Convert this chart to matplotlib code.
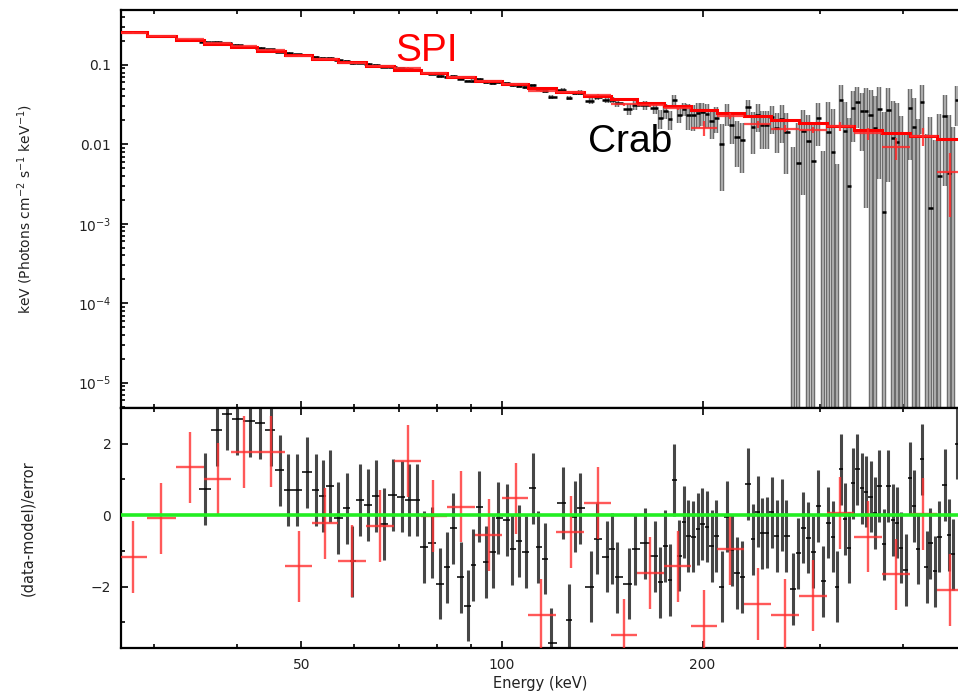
import numpy as np
import matplotlib
matplotlib.use("Agg")
from matplotlib import pyplot as plt
from matplotlib.ticker import FixedLocator, NullFormatter, MultipleLocator, LogLocator

# SPI spectrum (red): bin centres in keV, model, data, residuals
spi_energy = [27.9, 30.8, 34.0, 37.5, 41.0, 45.0, 49.6, 54.2, 59.5, 65.6,
              72.3, 78.8, 86.8, 95.6, 104.9, 114.5, 126.8, 139.3, 152.5, 166.9,
              183.5, 201.0, 220.0, 242.0, 266.0, 293.0, 322.0, 354.0, 391.0, 429.0,
              470.0]
spi_model = [0.257, 0.229, 0.205, 0.183, 0.166, 0.149, 0.133, 0.120, 0.108, 0.0968,
             0.0867, 0.0786, 0.0704, 0.0630, 0.0567, 0.0513, 0.0457, 0.0410, 0.0370, 0.0334,
             0.0300, 0.0271, 0.0247, 0.0224, 0.0204, 0.0185, 0.0168, 0.0153, 0.0138, 0.0126,
             0.0115]
spi_flux = [0.251, 0.229, 0.210, 0.187, 0.171, 0.154, 0.129, 0.120, 0.106, 0.0959,
            0.0907, 0.0786, 0.0709, 0.0619, 0.0575, 0.0470, 0.0451, 0.0414, 0.0320, 0.0312,
            0.0283, 0.0162, 0.0228, 0.0179, 0.0158, 0.0152, 0.0169, 0.0138, 0.0092, 0.0127,
            0.0045]
spi_flux_err = [0.0051, 0.0046, 0.0041, 0.0037, 0.0033, 0.0030, 0.0027, 0.0024, 0.0022, 0.0029,
                0.0026, 0.0024, 0.0021, 0.0019, 0.0017, 0.0015, 0.0014, 0.0012, 0.0015, 0.0013,
                0.0012, 0.0035, 0.0020, 0.0018, 0.0016, 0.0015, 0.0020, 0.0024, 0.0028, 0.0032,
                0.0033]
spi_resid = [-1.17, -0.09, 1.34, 1.01, 1.77, 1.78, -1.43, -0.23, -1.28, -0.30,
             1.52, -0.02, 0.24, -0.56, 0.47, -2.79, -0.47, 0.34, -3.36, -1.62,
             -1.43, -3.10, -0.96, -2.49, -2.79, -2.25, 0.06, -0.60, -1.66, 0.03,
             -2.10]

# Crab spectrum (black)
crab_energy = [35.8, 37.3, 38.7, 40.0, 41.8, 43.3, 45.0, 46.4, 47.8, 49.2,
               51.0, 52.6, 53.8, 55.2, 56.8, 58.6, 59.6, 61.2, 63.0, 64.7,
               66.5, 68.5, 70.7, 72.4, 74.5, 76.4, 78.6, 80.7, 82.8, 84.5,
               86.7, 88.8, 90.6, 92.5, 94.6, 96.8, 98.8, 101.6, 103.7, 106.1,
               108.5, 111.2, 113.4, 116.0, 118.3, 123.4, 126.2, 128.7, 130.9, 135.9,
               138.7, 143.6, 146.1, 149.0, 155.3, 158.4, 163.9, 169.7, 172.7, 175.7,
               178.8, 181.3, 184.4, 187.6, 190.5, 193.8, 196.8, 199.9, 203.0, 206.5,
               209.5, 213.7, 217.5, 221.2, 225.1, 229.5, 234.3, 237.9, 242.0, 245.4,
               249.7, 254.0, 258.5, 263.0, 267.0, 273.8, 278.6, 282.8, 288.4, 293.4,
               298.6, 303.8, 309.0, 313.7, 318.0, 322.4, 327.4, 332.2, 336.1, 341.5,
               346.7, 351.9, 357.7, 363.0, 368.5, 374.5, 380.2, 386.0, 391.4, 396.8,
               404.2, 409.8, 415.5, 421.7, 426.6, 434.1, 439.2, 446.8, 453.4, 462.4,
               469.4, 476.0, 481.6]
crab_flux = [0.196, 0.193, 0.187, 0.179, 0.170, 0.164, 0.156, 0.147, 0.141, 0.136,
             0.134, 0.127, 0.123, 0.121, 0.114, 0.111, 0.104, 0.106, 0.102, 0.100,
             0.0947, 0.0938, 0.0905, 0.0879, 0.0851, 0.0789, 0.0767, 0.0714, 0.0705, 0.0717,
             0.0662, 0.0625, 0.0629, 0.0662, 0.0600, 0.0592, 0.0605, 0.0584, 0.0550, 0.0542,
             0.0521, 0.0553, 0.0494, 0.0472, 0.0396, 0.0480, 0.0385, 0.0448, 0.0448, 0.0354,
             0.0390, 0.0359, 0.0360, 0.0327, 0.0279, 0.0313, 0.0309, 0.0283, 0.0212, 0.0266,
             0.0208, 0.0358, 0.0237, 0.0282, 0.0237, 0.0231, 0.0245, 0.0252, 0.0242, 0.0195,
             0.0215, 0.0102, 0.0247, 0.0174, 0.0124, 0.0114, 0.0293, 0.0166, 0.0233, 0.0176,
             0.0174, 0.0221, 0.0161, 0.0206, 0.0144, -0.0007, 0.0059, 0.0148, 0.0111, 0.0061,
             0.0212, -0.0118, 0.0142, 0.0080, -0.0136, 0.0362, 0.0149, 0.0030, 0.0290, 0.0340,
             0.0261, 0.0266, 0.0237, 0.0159, 0.0278, 0.0014, 0.0269, 0.0120, 0.0106, 0.0000,
             -0.0093, 0.0283, 0.0167, -0.0004, 0.0345, -0.0074, 0.0016, -0.0088, 0.0040, 0.0226,
             0.0044, -0.0024, 0.0358]
crab_flux_err = [0.0039, 0.0037, 0.0035, 0.0034, 0.0032, 0.0031, 0.0030, 0.0029, 0.0028, 0.0027,
                 0.0039, 0.0037, 0.0036, 0.0035, 0.0034, 0.0033, 0.0032, 0.0031, 0.0030, 0.0030,
                 0.0029, 0.0028, 0.0031, 0.0030, 0.0029, 0.0028, 0.0028, 0.0027, 0.0026, 0.0025,
                 0.0025, 0.0024, 0.0030, 0.0029, 0.0029, 0.0028, 0.0027, 0.0026, 0.0026, 0.0025,
                 0.0025, 0.0029, 0.0029, 0.0028, 0.0027, 0.0026, 0.0025, 0.0025, 0.0035, 0.0034,
                 0.0033, 0.0032, 0.0031, 0.0030, 0.0044, 0.0042, 0.0041, 0.0039, 0.0058, 0.0057,
                 0.0056, 0.0055, 0.0054, 0.0053, 0.0086, 0.0085, 0.0083, 0.0082, 0.0080, 0.0079,
                 0.0078, 0.0076, 0.0075, 0.0074, 0.0072, 0.0071, 0.0070, 0.0091, 0.0090, 0.0088,
                 0.0087, 0.0086, 0.0084, 0.0103, 0.0102, 0.0099, 0.0127, 0.0125, 0.0122, 0.0120,
                 0.0118, 0.0200, 0.0198, 0.0195, 0.0192, 0.0190, 0.0187, 0.0185, 0.0182, 0.0180,
                 0.0178, 0.0250, 0.0247, 0.0244, 0.0241, 0.0238, 0.0235, 0.0232, 0.0229, 0.0226,
                 0.0223, 0.0220, 0.0217, 0.0214, 0.0211, 0.0208, 0.0205, 0.0202, 0.0199, 0.0196,
                 0.0193, 0.0190, 0.0188]
crab_resid = [0.73, 2.38, 2.83, 2.69, 2.64, 2.58, 2.38, 1.25, 0.70, 0.70,
              1.20, 0.70, 0.53, 0.81, -0.08, 0.19, -1.29, 0.43, 0.29, 0.53,
              -0.25, 0.57, 0.52, 0.42, 0.43, -0.89, -0.77, -1.92, -1.46, -0.37,
              -1.74, -2.53, -1.40, 0.24, -1.31, -1.03, -0.08, -0.14, -0.96, -0.72,
              -1.03, 0.75, -0.89, -1.22, -3.59, 0.34, -2.93, -0.04, 0.19, -2.00,
              -0.66, -1.16, -0.94, -1.74, -1.92, -0.96, -0.79, -1.15, -1.88, -0.86,
              -1.82, 0.99, -1.13, -0.19, -0.58, -0.60, -0.39, -0.25, -0.32, -0.86,
              -0.58, -2.00, -0.04, -0.98, -1.62, -1.73, 0.87, -0.68, 0.10, -0.51,
              -0.49, 0.08, -0.58, 0.00, -0.58, -2.07, -1.07, -0.35, -0.63, -1.03,
              0.26, -1.85, -0.21, -0.60, -2.00, 1.28, -0.11, -0.91, 0.89, 1.28,
              0.75, 0.66, 0.52, 0.06, 0.81, -0.82, 0.81, -0.13, -0.21, -0.91,
              -1.54, 1.04, 0.26, -0.94, 1.56, -1.45, -0.79, -1.57, -0.60, 0.85,
              -0.56, -1.10, 2.00]

x_ticks = [50, 100, 200]
x_minor = [30, 40, 60, 70, 80, 90, 300, 400]
y_ticks = [1e-5, 1e-4, 1e-3, 1e-2, 1e-1]
y_ticklabels = ["10$^{-5}$", "10$^{-4}$", "10$^{-3}$", "0.01", "0.1"]


def log_edges(e):
    # bin edges halfway (in log) between neighbouring centres
    e = np.asarray(e, dtype=float)
    mid = np.sqrt(e[:-1] * e[1:])
    return np.concatenate([[e[0] ** 2 / mid[0]], mid, [e[-1] ** 2 / mid[-1]]])


W, H = 958, 696
fig = plt.figure(figsize=(W / 100, H / 100), dpi=100)
ax1 = fig.add_axes([121 / W, 1 - 408 / H, (960 - 121) / W, 398 / H])
ax2 = fig.add_axes([121 / W, 1 - 648 / H, (960 - 121) / W, 240 / H], sharex=ax1)

spi_e = np.array(spi_energy)
spi_edges = log_edges(spi_e)
crab_e = np.array(crab_energy)
crab_edges = log_edges(crab_e)
cf = np.array(crab_flux)
ce = np.array(crab_flux_err)
cr = np.array(crab_resid)

# ---- top panel: unfolded spectrum
ax1.set_xscale("log")
ax1.set_yscale("log")
lo = cf - ce
lo_draw = np.where(lo > 0, lo, 1e-8)
ax1.vlines(crab_e, lo_draw, cf + ce, color="#6c6c6c", lw=3.2, zorder=2)
ax1.vlines(crab_e, lo_draw, cf + ce, color="#b2b2b2", lw=1.3, zorder=2.1)
pos = cf > 0
ax1.hlines(cf[pos], crab_edges[:-1][pos], crab_edges[1:][pos], color="black", lw=1.8, zorder=3)

ax1.stairs(spi_model, spi_edges, color="red", lw=2.2, baseline=None, zorder=4)
sf = np.array(spi_flux)
se = np.array(spi_flux_err)
ax1.vlines(spi_e, sf - se, sf + se, color="#ff2a2a", lw=1.6, alpha=0.85, zorder=5)
ax1.hlines(sf, spi_edges[:-1], spi_edges[1:], color="#ff2a2a", lw=1.6, alpha=0.85, zorder=5)

ax1.set_xlim(26.8, 487)
ax1.set_ylim(4.8e-6, 0.49)

ax1.yaxis.set_major_locator(FixedLocator(y_ticks))
ax1.set_yticklabels(y_ticklabels)
ax1.yaxis.set_minor_locator(LogLocator(base=10, subs=np.arange(2, 10)))
ax1.yaxis.set_minor_formatter(NullFormatter())
ax1.set_ylabel("keV (Photons cm$^{-2}$ s$^{-1}$ keV$^{-1}$)", fontsize=10, color="#222222")

fig.text(395 / W, 1 - 61 / H, "SPI", color="red", fontsize=28,
         family="Liberation Sans", va="baseline", ha="left")
fig.text(588 / W, 1 - 152 / H, "Crab", color="black", fontsize=28,
         family="Liberation Sans", va="baseline", ha="left")

# ---- bottom panel: residuals
sr = np.array(spi_resid)
ax2.vlines(crab_e, cr - 1, cr + 1, color="#474747", lw=2.2, zorder=2)
ax2.hlines(cr, crab_edges[:-1], crab_edges[1:], color="black", lw=1.1, zorder=2.2)
ax2.vlines(spi_e, sr - 1, sr + 1, color="#ff3030", lw=1.7, alpha=0.8, zorder=3)
ax2.hlines(sr, spi_edges[:-1], spi_edges[1:], color="#ff3030", lw=1.7, alpha=0.8, zorder=3)
ax2.axhline(0, color="#22ee22", lw=2.6, zorder=6)

ax2.set_ylim(-3.72, 3.0)
ax2.yaxis.set_major_locator(MultipleLocator(2))
ax2.yaxis.set_minor_locator(MultipleLocator(1))
ax2.set_ylabel("(data-model)/error", fontsize=10.5, color="#222222")

ax2.xaxis.set_major_locator(FixedLocator(x_ticks))
ax2.set_xticklabels([str(t) for t in x_ticks])
ax2.xaxis.set_minor_locator(FixedLocator(x_minor))
ax2.xaxis.set_minor_formatter(NullFormatter())
ax2.set_xlabel("Energy (keV)", fontsize=10.5, color="#222222", labelpad=3)

for ax in (ax1, ax2):
    ax.tick_params(which="both", direction="in", top=True, right=False,
                   width=1.2, labelsize=10, labelcolor="#222222")
    ax.tick_params(which="major", length=5, pad=7)
    ax.tick_params(which="minor", length=3)
    for s in ax.spines.values():
        s.set_linewidth(1.6)
    ax.yaxis.set_label_coords(-0.1025, 0.5)
ax1.tick_params(labelbottom=False)
ax2.set_xlim(26.8, 487)

fig.savefig("out.png", dpi=100)
